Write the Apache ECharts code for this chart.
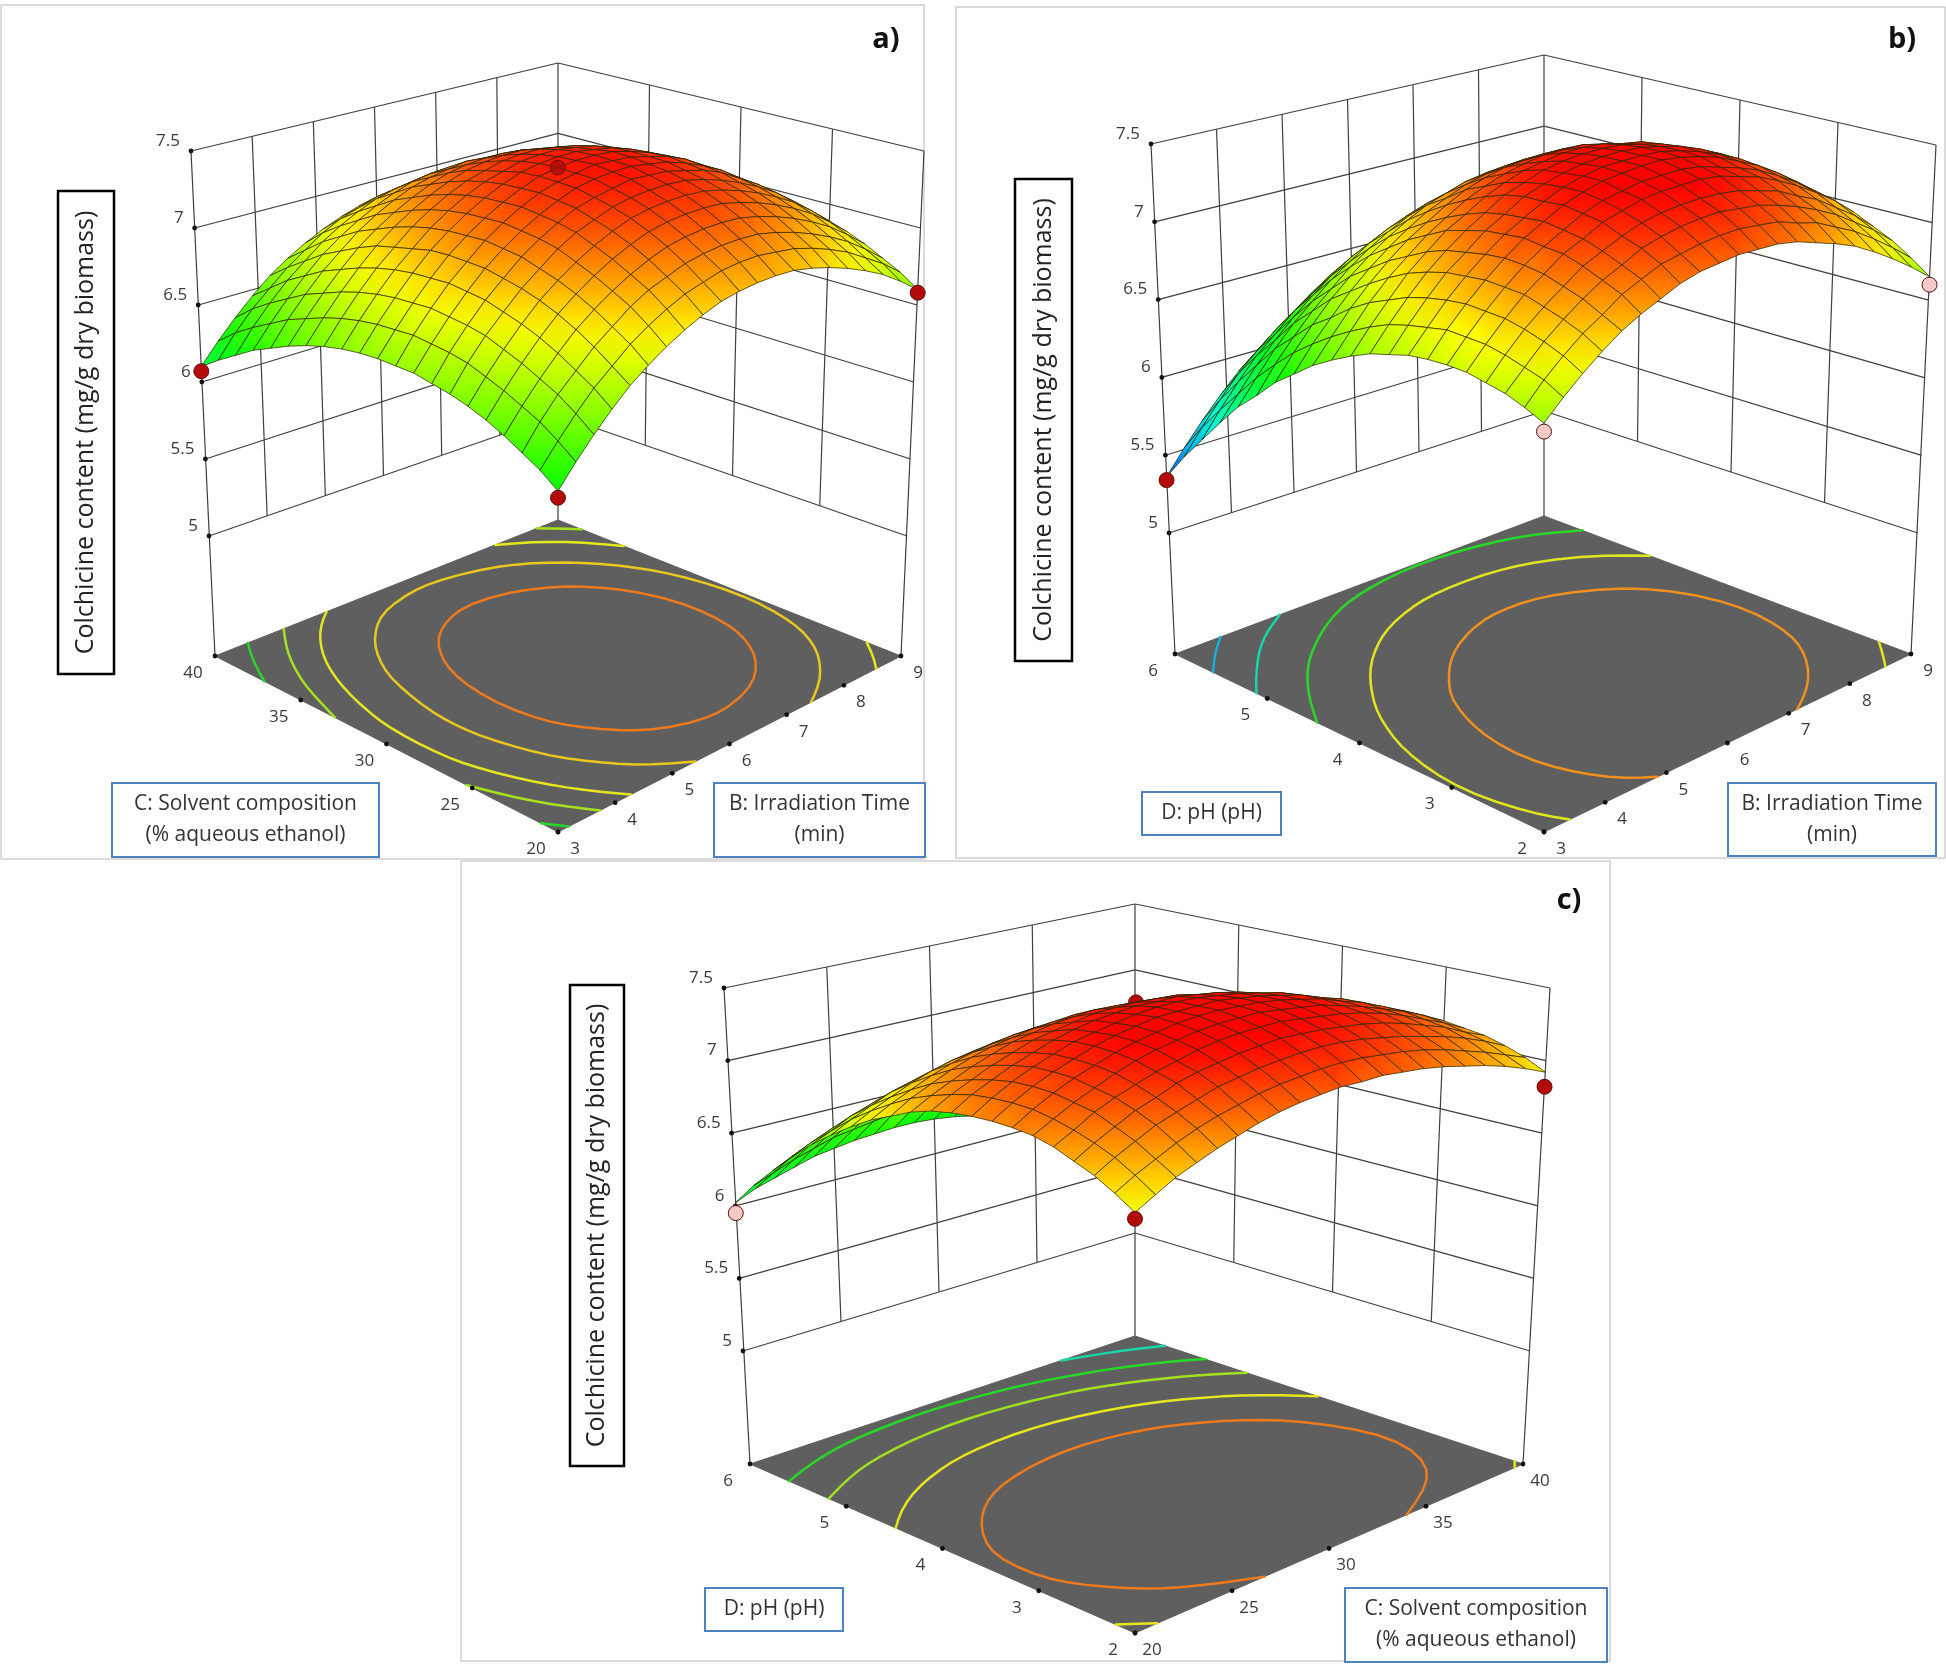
<!DOCTYPE html>
<html><head><meta charset="utf-8">
<style>html,body{margin:0;padding:0;background:#fff}#c{width:1946px;height:1674px}</style>
<script src="https://cdn.jsdelivr.net/npm/echarts@6/dist/echarts.min.js"></script>
</head><body><div id="c"></div>
<script>
const yTitle = 'Colchicine content (mg/g dry biomass)';
const zTicks = [5,5.5,6,6.5,7,7.5];
const bTicks = [3,4,5,6,7,8,9];
const cTicks = [20,25,30,35,40];
const dTicks = [2,3,4,5,6];
const bSteps = [3,3.3,3.6,3.9,4.2,4.5,4.8,5.1,5.4,5.7,6,6.3,6.6,6.9,7.2,7.5,7.8,8.1,8.4,8.7,9];
const cSteps = [20,21,22,23,24,25,26,27,28,29,30,31,32,33,34,35,36,37,38,39,40];
const dSteps = [2,2.2,2.4,2.6,2.8,3,3.2,3.4,3.6,3.8,4,4.2,4.4,4.6,4.8,5,5.2,5.4,5.6,5.8,6];

// rows: B (3..9), columns: C (20..40)
const surfaceA = [
[6.26,6.34,6.40,6.46,6.51,6.55,6.58,6.60,6.62,6.62,6.62,6.61,6.59,6.56,6.52,6.47,6.41,6.35,6.27,6.19,6.10],
[6.39,6.47,6.54,6.59,6.64,6.68,6.72,6.74,6.75,6.76,6.75,6.74,6.72,6.69,6.65,6.60,6.55,6.48,6.41,6.33,6.23],
[6.51,6.59,6.66,6.71,6.76,6.80,6.84,6.86,6.87,6.88,6.87,6.86,6.84,6.81,6.77,6.72,6.67,6.60,6.53,6.45,6.35],
[6.62,6.70,6.76,6.82,6.87,6.91,6.94,6.97,6.98,6.99,6.98,6.97,6.95,6.92,6.88,6.83,6.78,6.71,6.64,6.55,6.46],
[6.72,6.79,6.86,6.92,6.97,7.01,7.04,7.06,7.08,7.08,7.08,7.07,7.04,7.01,6.98,6.93,6.87,6.81,6.73,6.65,6.56],
[6.80,6.88,6.94,7.00,7.05,7.09,7.12,7.15,7.16,7.17,7.16,7.15,7.13,7.10,7.06,7.01,6.96,6.89,6.82,6.73,6.64],
[6.87,6.95,7.02,7.07,7.12,7.16,7.20,7.22,7.23,7.24,7.23,7.22,7.20,7.17,7.13,7.08,7.03,6.96,6.89,6.81,6.71],
[6.93,7.01,7.08,7.13,7.18,7.22,7.26,7.28,7.29,7.30,7.29,7.28,7.26,7.23,7.19,7.14,7.09,7.02,6.95,6.87,6.77],
[6.98,7.06,7.12,7.18,7.23,7.27,7.30,7.33,7.34,7.35,7.34,7.33,7.31,7.28,7.24,7.19,7.14,7.07,7.00,6.91,6.82],
[7.02,7.09,7.16,7.22,7.27,7.31,7.34,7.36,7.38,7.38,7.38,7.37,7.34,7.31,7.28,7.23,7.17,7.11,7.03,6.95,6.86],
[7.04,7.12,7.18,7.24,7.29,7.33,7.36,7.38,7.40,7.40,7.40,7.39,7.37,7.34,7.30,7.25,7.19,7.13,7.05,6.97,6.88],
[7.05,7.13,7.19,7.25,7.30,7.34,7.37,7.40,7.41,7.42,7.41,7.40,7.38,7.35,7.31,7.26,7.21,7.14,7.07,6.98,6.89],
[7.05,7.13,7.19,7.25,7.30,7.34,7.37,7.39,7.41,7.41,7.41,7.40,7.38,7.35,7.31,7.26,7.20,7.14,7.06,6.98,6.89],
[7.04,7.11,7.18,7.24,7.29,7.33,7.36,7.38,7.39,7.40,7.40,7.38,7.36,7.33,7.29,7.25,7.19,7.12,7.05,6.97,6.88],
[7.01,7.09,7.15,7.21,7.26,7.30,7.33,7.35,7.37,7.37,7.37,7.36,7.34,7.31,7.27,7.22,7.16,7.10,7.02,6.94,6.85],
[6.97,7.05,7.11,7.17,7.22,7.26,7.29,7.32,7.33,7.34,7.33,7.32,7.30,7.27,7.23,7.18,7.13,7.06,6.99,6.90,6.81],
[6.92,7.00,7.06,7.12,7.17,7.21,7.24,7.27,7.28,7.29,7.28,7.27,7.25,7.22,7.18,7.13,7.08,7.01,6.94,6.85,6.76],
[6.86,6.94,7.00,7.06,7.11,7.15,7.18,7.20,7.22,7.22,7.22,7.21,7.19,7.16,7.12,7.07,7.01,6.95,6.87,6.79,6.70],
[6.79,6.86,6.93,6.99,7.04,7.08,7.11,7.13,7.14,7.15,7.15,7.13,7.11,7.08,7.04,7.00,6.94,6.87,6.80,6.72,6.63],
[6.70,6.78,6.84,6.90,6.95,6.99,7.02,7.04,7.06,7.06,7.06,7.05,7.03,7.00,6.96,6.91,6.85,6.79,6.71,6.63,6.54],
[6.60,6.68,6.74,6.80,6.85,6.89,6.92,6.94,6.96,6.96,6.96,6.95,6.93,6.90,6.86,6.81,6.75,6.69,6.61,6.53,6.44]];

// rows: B (3..9), columns: D (2..6)
const surfaceB = [
[6.65,6.70,6.74,6.76,6.78,6.78,6.77,6.75,6.71,6.67,6.61,6.54,6.46,6.36,6.26,6.13,6.01,5.86,5.70,5.54,5.36],
[6.76,6.82,6.85,6.88,6.90,6.90,6.90,6.87,6.84,6.80,6.74,6.67,6.59,6.50,6.40,6.28,6.15,6.00,5.85,5.69,5.51],
[6.86,6.92,6.96,6.99,7.01,7.01,7.01,6.99,6.96,6.92,6.86,6.80,6.72,6.62,6.53,6.41,6.29,6.14,5.99,5.83,5.65],
[6.95,7.01,7.05,7.08,7.11,7.11,7.11,7.09,7.07,7.03,6.98,6.91,6.83,6.74,6.65,6.53,6.41,6.26,6.12,5.96,5.78],
[7.03,7.08,7.13,7.16,7.19,7.20,7.20,7.18,7.15,7.12,7.07,7.00,6.93,6.84,6.75,6.63,6.51,6.37,6.22,6.07,5.90],
[7.09,7.16,7.20,7.24,7.27,7.27,7.28,7.26,7.24,7.20,7.16,7.09,7.02,6.93,6.84,6.73,6.61,6.47,6.33,6.17,6.00],
[7.14,7.21,7.25,7.29,7.32,7.33,7.34,7.32,7.30,7.27,7.22,7.16,7.09,7.01,6.92,6.81,6.69,6.56,6.41,6.26,6.09],
[7.19,7.26,7.31,7.34,7.38,7.39,7.40,7.38,7.37,7.34,7.29,7.23,7.16,7.08,6.99,6.88,6.77,6.64,6.50,6.35,6.18],
[7.22,7.28,7.34,7.38,7.41,7.43,7.44,7.43,7.41,7.38,7.34,7.28,7.22,7.13,7.05,6.94,6.83,6.70,6.56,6.41,6.25],
[7.23,7.30,7.36,7.40,7.44,7.45,7.47,7.46,7.44,7.42,7.38,7.32,7.26,7.18,7.09,6.99,6.88,6.75,6.61,6.47,6.30],
[7.24,7.31,7.37,7.41,7.45,7.47,7.48,7.48,7.46,7.44,7.40,7.35,7.29,7.21,7.13,7.02,6.92,6.79,6.65,6.51,6.35],
[7.23,7.31,7.37,7.41,7.45,7.47,7.49,7.48,7.47,7.45,7.42,7.37,7.30,7.23,7.15,7.05,6.94,6.82,6.69,6.54,6.38],
[7.22,7.29,7.35,7.40,7.45,7.47,7.49,7.48,7.47,7.45,7.42,7.37,7.31,7.24,7.16,7.06,6.96,6.83,6.70,6.56,6.41],
[7.19,7.27,7.33,7.38,7.43,7.45,7.47,7.47,7.46,7.44,7.41,7.37,7.31,7.24,7.16,7.06,6.96,6.84,6.71,6.57,6.42],
[7.14,7.22,7.29,7.34,7.39,7.41,7.44,7.44,7.43,7.41,7.38,7.34,7.29,7.22,7.14,7.05,6.95,6.83,6.70,6.56,6.41],
[7.09,7.18,7.24,7.30,7.35,7.37,7.40,7.40,7.40,7.38,7.36,7.31,7.26,7.19,7.12,7.03,6.93,6.81,6.69,6.55,6.40],
[7.03,7.11,7.18,7.23,7.29,7.32,7.34,7.35,7.35,7.33,7.31,7.27,7.22,7.15,7.08,6.99,6.90,6.78,6.66,6.52,6.38],
[6.95,7.04,7.11,7.17,7.22,7.25,7.28,7.29,7.29,7.28,7.26,7.22,7.17,7.10,7.04,6.95,6.86,6.74,6.62,6.49,6.34],
[6.86,6.95,7.02,7.08,7.14,7.17,7.20,7.21,7.22,7.21,7.18,7.15,7.10,7.04,6.98,6.89,6.80,6.68,6.57,6.44,6.29],
[6.76,6.85,6.93,6.99,7.05,7.08,7.11,7.12,7.13,7.12,7.10,7.07,7.02,6.96,6.90,6.82,6.73,6.62,6.50,6.37,6.23],
[6.65,6.74,6.82,6.88,6.94,6.98,7.01,7.03,7.03,7.03,7.01,6.98,6.94,6.88,6.82,6.73,6.65,6.54,6.42,6.30,6.16]];

// rows: C (20..40), columns: D (2..6)
const surfaceC = [
[6.87,6.95,7.02,7.07,7.12,7.15,7.16,7.16,7.15,7.13,7.10,7.05,6.98,6.91,6.82,6.72,6.61,6.48,6.34,6.19,6.02],
[6.94,7.02,7.09,7.14,7.18,7.21,7.23,7.23,7.22,7.20,7.16,7.11,7.05,6.97,6.88,6.78,6.66,6.54,6.40,6.24,6.08],
[7.01,7.08,7.15,7.20,7.25,7.27,7.29,7.29,7.28,7.25,7.21,7.16,7.10,7.02,6.93,6.83,6.72,6.59,6.45,6.29,6.12],
[7.06,7.14,7.21,7.26,7.30,7.32,7.34,7.34,7.33,7.30,7.26,7.21,7.15,7.07,6.98,6.88,6.76,6.63,6.49,6.33,6.16],
[7.11,7.19,7.25,7.30,7.34,7.37,7.38,7.38,7.37,7.34,7.30,7.25,7.19,7.11,7.02,6.91,6.80,6.67,6.52,6.37,6.20],
[7.15,7.23,7.29,7.35,7.38,7.41,7.42,7.42,7.41,7.38,7.34,7.29,7.22,7.14,7.05,6.94,6.83,6.69,6.55,6.39,6.22],
[7.19,7.26,7.33,7.38,7.41,7.44,7.45,7.45,7.43,7.41,7.36,7.31,7.24,7.16,7.07,6.97,6.85,6.71,6.57,6.41,6.24],
[7.22,7.29,7.35,7.40,7.44,7.46,7.47,7.47,7.45,7.43,7.38,7.33,7.26,7.18,7.09,6.98,6.86,6.73,6.58,6.43,6.25],
[7.24,7.31,7.37,7.42,7.46,7.48,7.49,7.49,7.47,7.44,7.40,7.34,7.27,7.19,7.10,6.99,6.87,6.74,6.59,6.43,6.26],
[7.25,7.32,7.38,7.43,7.47,7.49,7.50,7.49,7.48,7.45,7.40,7.35,7.28,7.19,7.10,6.99,6.87,6.74,6.59,6.43,6.26],
[7.26,7.33,7.39,7.44,7.47,7.49,7.50,7.49,7.48,7.44,7.40,7.34,7.27,7.19,7.09,6.99,6.86,6.73,6.58,6.42,6.25],
[7.25,7.33,7.39,7.43,7.47,7.49,7.49,7.49,7.47,7.44,7.39,7.33,7.26,7.18,7.08,6.97,6.85,6.71,6.57,6.40,6.23],
[7.25,7.32,7.38,7.42,7.45,7.47,7.48,7.47,7.45,7.42,7.38,7.32,7.25,7.16,7.06,6.95,6.83,6.69,6.54,6.38,6.20],
[7.23,7.30,7.36,7.40,7.43,7.45,7.46,7.45,7.43,7.40,7.35,7.29,7.22,7.13,7.04,6.92,6.80,6.66,6.51,6.35,6.17],
[7.21,7.28,7.33,7.38,7.41,7.43,7.43,7.42,7.40,7.37,7.32,7.26,7.19,7.10,7.00,6.89,6.76,6.63,6.47,6.31,6.13],
[7.18,7.25,7.30,7.35,7.38,7.39,7.40,7.39,7.37,7.33,7.28,7.22,7.15,7.06,6.96,6.85,6.72,6.58,6.43,6.27,6.09],
[7.14,7.21,7.26,7.31,7.34,7.35,7.35,7.34,7.32,7.29,7.24,7.18,7.10,7.01,6.91,6.80,6.67,6.53,6.38,6.21,6.03],
[7.10,7.16,7.22,7.26,7.29,7.30,7.31,7.30,7.27,7.24,7.19,7.12,7.05,6.96,6.86,6.74,6.61,6.47,6.32,6.15,5.97],
[7.05,7.11,7.17,7.21,7.23,7.25,7.25,7.24,7.21,7.18,7.13,7.06,6.99,6.90,6.79,6.68,6.55,6.41,6.26,6.09,5.91],
[6.99,7.05,7.11,7.14,7.17,7.19,7.19,7.17,7.15,7.11,7.06,7.00,6.92,6.83,6.72,6.61,6.48,6.34,6.18,6.01,5.83],
[6.92,6.99,7.04,7.08,7.10,7.12,7.12,7.10,7.08,7.04,6.99,6.92,6.84,6.75,6.65,6.53,6.40,6.26,6.10,5.93,5.75]];

// design points: [rowFactor, colFactor, response]
const pointsAOver = [[3,20,6.22],[3,40,6.07],[9,20,6.58]];
const pointsACentre = [[6,30,7.4]];
const pointsBOver = [[3,6,5.34]], pointsBOverPink = [[9,2,6.6]];
const pointsBUnder = [[6,4,7.4]], pointsBUnderPink = [[3,2,6.6]];
const pointsCOver = [[40,2,6.82],[20,2,6.83]], pointsCOverPink = [[20,6,5.95]];
const pointsCUnder = [[30,4,7.4]];

const levelsA = [7.19,6.98,6.74,6.56,6.34];
const levelsB = [7.15,6.8,6.43,6.06,5.71];
const levelsC = [7.21,6.95,6.62,6.345,6.02];

// ---------- styling / layout ----------
const FONT = '"Open Sans", sans-serif';
const LABEL = '#3a3a3a';
const FLOOR_Z = 4.225;
const FLOOR_W = -0.31;
const colorStops = [[5.2,[0,0,255]],[5.7,[0,255,255]],[6.25,[0,255,0]],[6.9,[255,255,0]],[7.45,[255,0,0]]];
function colorOf(z){
  if(z<=colorStops[0][0]) return 'rgb('+colorStops[0][1]+')';
  for(let k=1;k<colorStops.length;k++){
    if(z<=colorStops[k][0]){
      const a=colorStops[k-1],b=colorStops[k],t=(z-a[0])/(b[0]-a[0]);
      return 'rgb('+a[1].map((v,n)=>Math.round(v+(b[1][n]-v)*t)).join(',')+')';
    }
  }
  return 'rgb(255,0,0)';
}
// view of the box: edges stay evenly ticked, the floor centre sits where its diagonals cross
function makeCamera(cs){
  const SL=cs.L5[1]-cs.L75[1],SB=cs.B5[1]-cs.B75[1],SR=cs.R5[1]-cs.R75[1],SF=SL+SR-SB;
  const F5=[cs.F0[0],cs.F0[1]-(cs.L0[1]-cs.L5[1])*SF/SL];
  const F75=[cs.F0[0],F5[1]-SF];
  const col=(P0,P5,P75,w)=>w>=0
    ?[P5[0]+(P75[0]-P5[0])*w,P5[1]+(P75[1]-P5[1])*w]
    :[P5[0]+(P0[0]-P5[0])*(w/FLOOR_W),P5[1]+(P0[1]-P5[1])*(w/FLOOR_W)];
  const k=(cs.F0[1]+cs.B0[1]+cs.L0[1]+cs.R0[1])/4-(cs.L0[1]+cs.R0[1])/2;
  return (u,v,w)=>{
    const s=(u+1)/2,t=(v+1)/2;
    const F=col(cs.F0,F5,F75,w),R=col(cs.R0,cs.R5,cs.R75,w),L=col(cs.L0,cs.L5,cs.L75,w),B=col(cs.B0,cs.B5,cs.B75,w);
    const x=F[0]*(1-s)*(1-t)+R[0]*s*(1-t)+L[0]*(1-s)*t+B[0]*s*t;
    const y=F[1]*(1-s)*(1-t)+R[1]*s*(1-t)+L[1]*(1-s)*t+B[1]*s*t-k*(1-u*u)*(1-v*v);
    return [x,y];
  };
}

const panels = [
 {name:'a)',grid:surfaceA,uTicks:bTicks,vTicks:cTicks,uSteps:bSteps,vSteps:cSteps,levels:levelsA,
  contourColors:['#ee7a1e','#e8c81e','#e6e61e','#a6e01e','#2ad82a'],
  over:pointsAOver,overPink:[],under:[],underPink:[],centreOver:pointsACentre,
  corners:{L0:[215,656],F0:[558,832],R0:[901,656],B0:[558,520],L5:[209,536],B5:[558,415],R5:[907,536],L75:[191,151],B75:[558,63],R75:[924,151]},
  frame:[1,5,923,854],tag:[886,40],titleBox:[58,191,56,483],
  boxes:[{r:[112,783,267,74],t:'C: Solvent composition\n(% aqueous ethanol)'},{r:[714,783,211,74],t:'B: Irradiation Time\n(min)'}]},
 {name:'b)',grid:surfaceB,uTicks:bTicks,vTicks:dTicks,uSteps:bSteps,vSteps:dSteps,levels:levelsB,
  contourColors:['#f0901e','#dfe61e','#28d828','#18d8a8','#18b0d8'],
  over:pointsBOver,overPink:pointsBOverPink,under:pointsBUnder,underPink:pointsBUnderPink,centreOver:[],
  corners:{L0:[1175,654],F0:[1544,832],R0:[1911,654],B0:[1544,516],L5:[1169,533],B5:[1544,411],R5:[1918,533],L75:[1151,144],B75:[1544,55],R75:[1936,145]},
  frame:[956,7,989,851],tag:[1902,40],titleBox:[1015,179,57,482],
  boxes:[{r:[1142,792,139,43],t:'D: pH (pH)'},{r:[1728,783,208,73],t:'B: Irradiation Time\n(min)'}]},
 {name:'c)',grid:surfaceC,uTicks:cTicks,vTicks:dTicks,uSteps:cSteps,vSteps:dSteps,levels:levelsC,
  contourColors:['#ee7a1e','#e6e61e','#a0e01e','#28d828','#18d8a8'],
  over:pointsCOver,overPink:pointsCOverPink,under:pointsCUnder,underPink:[],centreOver:[],
  corners:{L0:[750,1464],F0:[1135,1633],R0:[1523,1464],B0:[1135,1336],L5:[743,1351],B5:[1135,1233],R5:[1530,1351],L75:[724,988],B75:[1135,904],R75:[1550,988]},
  frame:[461,861,1149,800],tag:[1569,901],titleBox:[570,985,54,481],
  boxes:[{r:[705,1588,138,43],t:'D: pH (pH)'},{r:[1345,1588,262,74],t:'C: Solvent composition\n(% aqueous ethanol)'}]}
];

// join the contour pieces of one level into running lines
function traceContours(P){
  const chains=[];
  P.levels.forEach((lv,li)=>{
    const segs=[];
    for(let i=0;i<20;i++)for(let j=0;j<20;j++){
      const c=[[i,j],[i+1,j],[i+1,j+1],[i,j+1]],hits=[];
      for(let e=0;e<4;e++){
        const a=c[e],b=c[(e+1)%4],za=P.grid[a[0]][a[1]],zb=P.grid[b[0]][b[1]];
        if((za<lv)!==(zb<lv)){
          const t=(lv-za)/(zb-za);
          hits.push([a[0]+(b[0]-a[0])*t,a[1]+(b[1]-a[1])*t]);
        }
      }
      if(hits.length>=2) segs.push([hits[0],hits[1]]);
      if(hits.length===4) segs.push([hits[2],hits[3]]);
    }
    const key=p=>p[0].toFixed(5)+'_'+p[1].toFixed(5);
    const ends={};
    segs.forEach((s,n)=>{[0,1].forEach(e=>{(ends[key(s[e])]=ends[key(s[e])]||[]).push([n,e]);});});
    const used=new Array(segs.length).fill(false);
    const walk=(start,startEnd)=>{
      const pts=[segs[start][startEnd],segs[start][1-startEnd]];
      used[start]=true;
      for(;;){
        const nx=(ends[key(pts[pts.length-1])]||[]).find(r=>!used[r[0]]);
        if(!nx) break;
        used[nx[0]]=true; pts.push(segs[nx[0]][1-nx[1]]);
      }
      return pts;
    };
    const starts=[];
    segs.forEach((s,n)=>{[0,1].forEach(e=>{if(ends[key(s[e])].length===1) starts.push([n,e]);});});
    starts.concat(segs.map((s,n)=>[n,0])).forEach(([n,e])=>{
      if(used[n]) return;
      let pts=walk(n,e);
      const closed=key(pts[0])===key(pts[pts.length-1]);
      for(let pass=0;pass<3;pass++){
        pts=pts.map((p,m)=>{
          if(!closed&&(m===0||m===pts.length-1)) return p;
          const N=pts.length-(closed?1:0),a=pts[(m-1+N)%N],b=pts[(m+1)%N];
          return [(a[0]+2*p[0]+b[0])/4,(a[1]+2*p[1]+b[1])/4];
        });
      }
      chains.push({li,pts});
    });
  });
  return chains;
}

const series=[]; const graphic=[];
function custom(data,render){
  series.push({type:'custom',coordinateSystem:'cartesian2d',data,renderItem:render,silent:true,clip:false,animation:false,progressive:0});
}
panels.forEach(P=>{
  const cam=makeCamera(P.corners);
  const uMin=P.uSteps[0],uMax=P.uSteps[20],vMin=P.vSteps[0],vMax=P.vSteps[20];
  const toU=a=>(a-uMin)/(uMax-uMin)*2-1, toV=a=>(a-vMin)/(vMax-vMin)*2-1;
  const proj=(api,a,b,z)=>api.coord(cam(toU(a),toV(b),(z-5)/2.5));

  graphic.push({type:'rect',shape:{x:P.frame[0],y:P.frame[1],width:P.frame[2],height:P.frame[3]},style:{fill:'#fff',stroke:'#cfcfcf',lineWidth:1.5},z:-10});

  // floor
  custom([[uMin,vMin]],(p,api)=>({type:'polygon',
    shape:{points:[proj(api,uMin,vMin,FLOOR_Z),proj(api,uMax,vMin,FLOOR_Z),proj(api,uMax,vMax,FLOOR_Z),proj(api,uMin,vMax,FLOOR_Z)]},
    style:{fill:'#5f5f5f',stroke:'#5f5f5f',lineWidth:1}}));

  // wall grid lines
  const wall=[];
  zTicks.forEach(z=>{wall.push([uMin,vMax,z,uMax,vMax,z]);wall.push([uMax,vMax,z,uMax,vMin,z]);});
  P.uTicks.slice(1,-1).forEach(t=>wall.push([t,vMax,5,t,vMax,7.5]));
  P.vTicks.slice(1,-1).forEach(t=>wall.push([uMax,t,5,uMax,t,7.5]));
  wall.push([uMin,vMax,FLOOR_Z,uMin,vMax,7.5],[uMax,vMax,FLOOR_Z,uMax,vMax,7.5],[uMax,vMin,FLOOR_Z,uMax,vMin,7.5]);
  custom(wall,(p,api)=>{
    const a=proj(api,api.value(0),api.value(1),api.value(2)),b=proj(api,api.value(3),api.value(4),api.value(5));
    return {type:'line',shape:{x1:a[0],y1:a[1],x2:b[0],y2:b[1]},style:{stroke:'#3f3f3f',lineWidth:1.2,fill:null}};
  });

  const chains=traceContours(P);
  custom(chains.map((c,n)=>[n]),(p,api)=>{
    const c=chains[api.value(0)];
    const at=(q,st)=>{const i=Math.floor(q),f=q-i;return i>=20?st[20]:st[i]+(st[i+1]-st[i])*f;};
    return {type:'polyline',shape:{points:c.pts.map(q=>proj(api,at(q[0],P.uSteps),at(q[1],P.vSteps),FLOOR_Z))},
      style:{stroke:P.contourColors[c.li],lineWidth:2.5,lineJoin:'round',lineCap:'round',fill:null}};
  });

  // tick dots and labels
  const uT=P.uTicks.map(t=>[t,vMin,FLOOR_Z,String(t),17,17]);
  const vT=P.vTicks.map(t=>[uMin,t,FLOOR_Z,String(t),-22,17]);
  const zT=zTicks.map(t=>[uMin,vMax,t,String(t),-11,-10]);
  const tickRows=uT.concat(vT,zT);
  custom(tickRows.map((r,n)=>[n]),(p,api)=>{
    const idx=api.value(0),row=tickRows[idx];
    const q=proj(api,row[0],row[1],row[2]);
    const isZ=idx>=uT.length+vT.length;
    return {type:'group',children:[
      {type:'circle',shape:{cx:q[0],cy:q[1],r:2.4},style:{fill:'#111'}},
      {type:'text',style:{text:row[3],x:q[0]+row[4],y:q[1]+row[5],fill:LABEL,font:'17px '+FONT,align:isZ?'right':'center',verticalAlign:'middle'}}
    ]};
  });

  const marker=(pts,fill,op)=>custom(pts,(p,api)=>{
    const q=proj(api,api.value(0),api.value(1),api.value(2));
    return {type:'circle',shape:{cx:q[0],cy:q[1],r:7.5},style:{fill,stroke:'#5a1010',lineWidth:1,opacity:op}};
  });
  const RED='#b40a0a',PINK='#f6c9c9';
  if(P.under.length) marker(P.under,RED,1);
  if(P.underPink.length) marker(P.underPink,PINK,1);

  // response surface, painted from the back corner to the front corner
  const cells=[];
  for(let i=0;i<20;i++)for(let j=0;j<20;j++)cells.push([i,j]);
  cells.sort((a,b)=>(b[0]+b[1])-(a[0]+a[1]));
  custom(cells,(p,api)=>{
    const i=api.value(0),j=api.value(1);
    const vs=[[i,j],[i+1,j],[i+1,j+1],[i,j+1]].map(c=>({z:P.grid[c[0]][c[1]],q:proj(api,P.uSteps[c[0]],P.vSteps[c[1]],P.grid[c[0]][c[1]])}));
    const hi=vs.reduce((m,v)=>v.z>m.z?v:m),lo=vs.reduce((m,v)=>v.z<m.z?v:m);
    const fill=hi.z===lo.z?colorOf(hi.z):new echarts.graphic.LinearGradient(hi.q[0],hi.q[1],lo.q[0],lo.q[1],[{offset:0,color:colorOf(hi.z)},{offset:1,color:colorOf(lo.z)}],true);
    return {type:'polygon',shape:{points:vs.map(v=>v.q)},style:{fill,stroke:'rgba(45,35,0,0.72)',lineWidth:1}};
  });

  if(P.over.length) marker(P.over,RED,1);
  if(P.overPink.length) marker(P.overPink,PINK,1);
  if(P.centreOver.length) marker(P.centreOver,'#a80c0c',0.8);

  // annotation boxes
  const [tx,ty,tw,th]=P.titleBox;
  graphic.push({type:'rect',shape:{x:tx,y:ty,width:tw,height:th},style:{fill:'#fff',stroke:'#000',lineWidth:2.5},z:50});
  graphic.push({type:'text',x:tx+tw/2,y:ty+th/2,rotation:Math.PI/2,style:{text:yTitle,fill:'#222',font:'25px '+FONT,align:'center',verticalAlign:'middle'},z:51});
  P.boxes.forEach(b=>{
    graphic.push({type:'rect',shape:{x:b.r[0],y:b.r[1],width:b.r[2],height:b.r[3]},style:{fill:'#fff',stroke:'#4f81bd',lineWidth:2},z:50});
    graphic.push({type:'text',x:b.r[0]+b.r[2]/2,y:b.r[1]+b.r[3]/2,style:{text:b.t,fill:'#333',font:'21px '+FONT,lineHeight:31,align:'center',verticalAlign:'middle'},z:51});
  });
  graphic.push({type:'text',x:P.tag[0],y:P.tag[1],style:{text:P.name,fill:'#111',font:'bold 29px '+FONT,align:'center',verticalAlign:'middle'},z:51});
});

const chart=echarts.init(document.getElementById('c'),null,{width:1946,height:1674});
chart.setOption({
  animation:false,backgroundColor:'#fff',
  grid:{left:0,right:0,top:0,bottom:0},
  xAxis:{type:'value',min:0,max:1946,show:false},
  yAxis:{type:'value',min:0,max:1674,inverse:true,show:false},
  graphic:{elements:graphic},
  series
});
</script></body></html>
